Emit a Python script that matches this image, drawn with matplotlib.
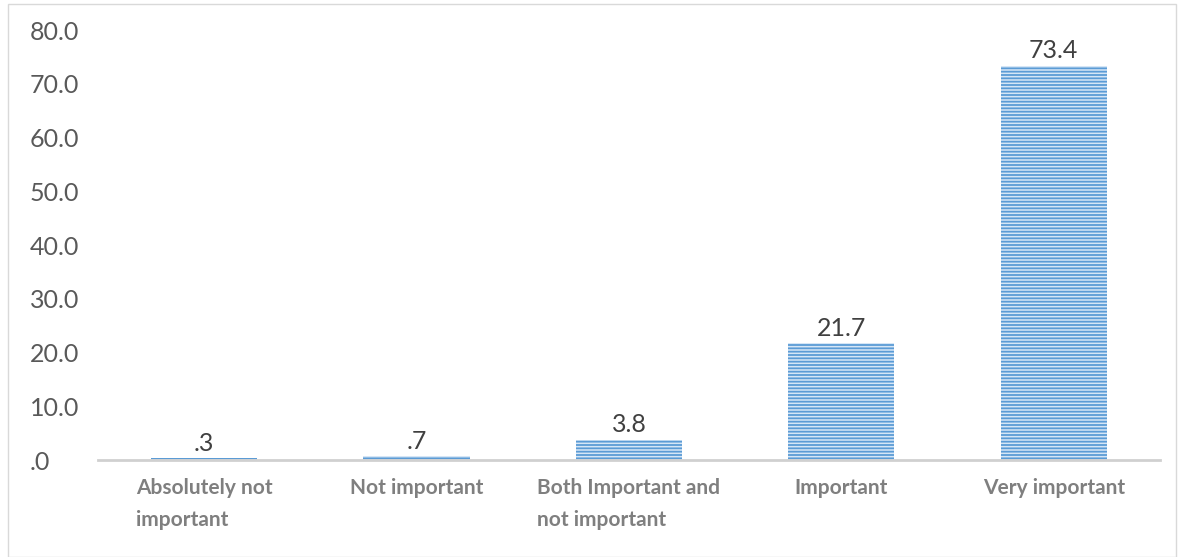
import numpy as np
import matplotlib.pyplot as plt
from matplotlib.patches import Rectangle

categories = ['Absolutely not\nimportant', 'Not important', 'Both Important and\nnot important',
              'Important', 'Very important']
values = [0.3, 0.7, 3.8, 21.7, 73.4]
yticks = [0, 10, 20, 30, 40, 50, 60, 70, 80]

def fmt(v):
    s = '%.1f' % v
    if s.startswith('0'):
        s = s[1:]
    return s

plt.rcParams['font.family'] = ['Lato', 'DejaVu Sans']
plt.rcParams['hatch.linewidth'] = 1.3

fig = plt.figure(figsize=(11.8, 5.57), dpi=100)
ax = fig.add_axes([0.083, 0.174, 0.9, 0.772])

x = np.arange(len(values))
# edgecolor gives the hatch colour, linewidth 0 hides the outline
bars = ax.bar(x, values, width=0.5, color='#d6e6f6', edgecolor='#5b9bd5', hatch='-----', linewidth=0)

for xi, v in zip(x, values):
    ax.text(xi, v + 0.6, fmt(v), ha='center', va='bottom', fontsize=18, color='#404040')

ax.set_xlim(-0.5, len(values) - 0.5)
ax.set_ylim(0, 80)
ax.set_yticks(yticks)
ax.set_yticklabels([fmt(t) for t in yticks], fontsize=18, color='#595959', ha='left')
ax.tick_params(axis='y', length=0, pad=49)
ax.set_xticks(x)
ax.set_xticklabels(categories, fontsize=15, fontweight='bold', color='#7f7f7f',
                   multialignment='left', linespacing=1.75)
ax.tick_params(axis='x', length=0, pad=13)

for s in ['left', 'right', 'top']:
    ax.spines[s].set_visible(False)
ax.spines['bottom'].set_color('#d0d0d0')
ax.spines['bottom'].set_linewidth(2)

# chart area border
fig.patches.append(Rectangle((0.007, 0.0), 0.99, 0.993, transform=fig.transFigure,
                             fill=False, edgecolor='#d9d9d9', linewidth=1))

fig.savefig('out.png', dpi=100)
